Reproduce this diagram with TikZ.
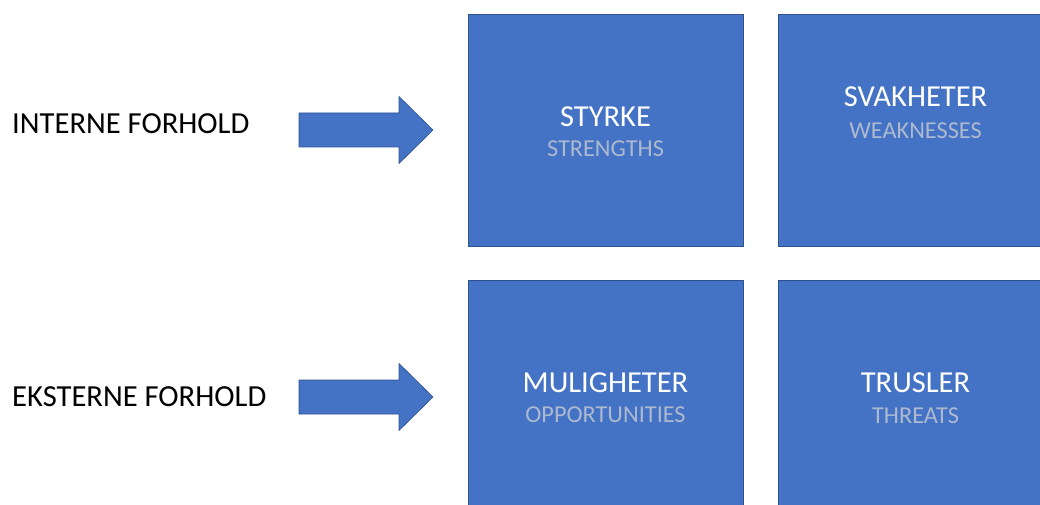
\documentclass[tikz,border=0pt]{standalone}
\usepackage{fontspec}
\setmainfont{Carlito}
\usetikzlibrary{calc}
\definecolor{boxblue}{HTML}{4472C4}
\definecolor{boxedge}{HTML}{2F528F}
\definecolor{subtext}{RGB}{172,185,207}
\begin{document}
\begin{tikzpicture}[x=1pt,y=1pt,
  quad/.style={draw=boxedge,line width=0.8pt,fill=boxblue,rectangle,
    minimum width=275pt,minimum height=232pt,anchor=north west,inner sep=0pt},
  headline/.style={text=white,font=\fontsize{30.5}{30.5}\selectfont,inner sep=0pt},
  subline/.style={text=subtext,font=\fontsize{24.3}{24.3}\selectfont,inner sep=0pt},
  sidelabel/.style={text=black,font=\fontsize{30.6}{30.6}\selectfont,inner sep=0pt,anchor=west},
  bigarrow/.style={draw=boxedge,line width=0.6pt,fill=boxblue,line join=miter}]
\useasboundingbox (0,0) rectangle (1040,-505);
\clip (0,0) rectangle (1040,-505);

% four quadrants
\node[quad] (s) at (468,-14) {};
\node[quad] (w) at (778,-14) {};
\node[quad] (o) at (468,-280) {};
\node[quad] (t) at (778,-280) {};

% quadrant titles
\node[headline] (sT) at (605.5,-117) {STYRKE};
\node[subline]  (sS) at (605.5,-149) {STRENGTHS};
\node[headline] (wT) at (915.5,-97) {SVAKHETER};
\node[subline]  (wS) at (915.5,-131) {WEAKNESSES};
\node[headline] (oT) at (605.5,-383) {MULIGHETER};
\node[subline]  (oS) at (605.5,-415) {OPPORTUNITIES};
\node[headline] (tT) at (915.5,-383) {TRUSLER};
\node[subline]  (tS) at (915.5,-416) {THREATS};

% side labels
\node[sidelabel] (int) at (12,-124) {INTERNE FORHOLD};
\node[sidelabel] (ext) at (12,-397) {EKSTERNE FORHOLD};

% block arrows
\coordinate (a1) at (299,-130);
\coordinate (a2) at (299,-397);
\foreach \c in {a1,a2}{
  \draw[bigarrow] ($(\c)+(0,17)$) -- ++(100,0) -- ++(0,16.5) -- ($(\c)+(134,0)$)
    -- ($(\c)+(100,-33.5)$) -- ++(0,16.5) -- ($(\c)+(0,-17)$) -- cycle;
}
\end{tikzpicture}
\end{document}
